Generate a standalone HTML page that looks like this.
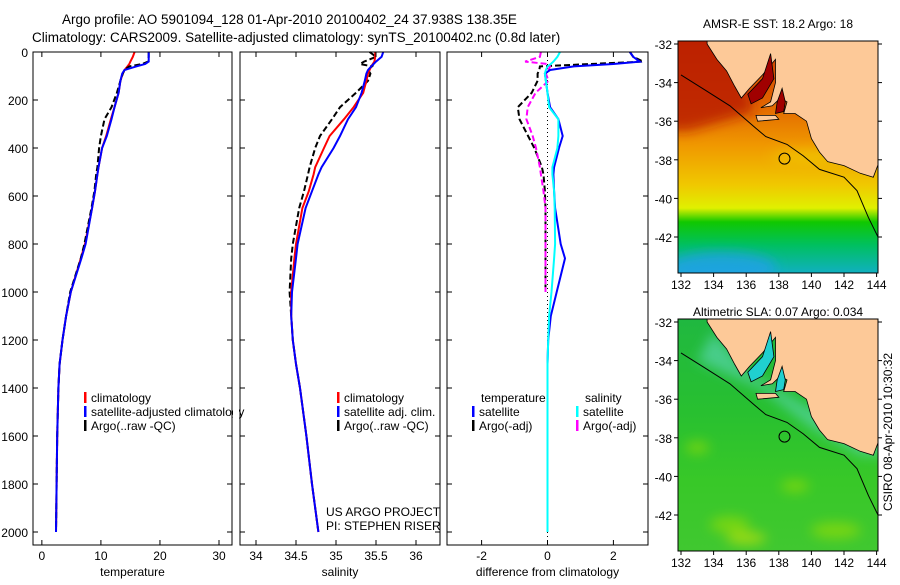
<!DOCTYPE html>
<html><head><meta charset="utf-8"><style>
body{margin:0;background:#fff;width:900px;height:580px;overflow:hidden}
svg{font-family:"Liberation Sans",sans-serif;font-size:12px}
</style></head><body>
<svg id="fig" width="900" height="580" viewBox="0 0 900 580">
<defs><filter id="blur" x="-20%" y="-20%" width="140%" height="140%"><feGaussianBlur stdDeviation="6"/></filter></defs>
<text x="62" y="24" font-size="13.5">Argo profile: AO 5901094_128 01-Apr-2010 20100402_24 37.938S 138.35E</text>
<text x="32" y="42" font-size="13.5">Climatology: CARS2009. Satellite-adjusted climatology: synTS_20100402.nc (0.8d later)</text>
<g id="plots"></g>
<g id="maps"></g>
<text transform="translate(892,432) rotate(-90)" text-anchor="middle" font-size="12">CSIRO 08-Apr-2010 10:30:32</text>
</svg>
<script>
// depth levels (dbar)
const depths = [0,20,40,50,60,75,90,120,170,230,280,350,400,480,510,580,650,800,860,1000,1100,1200,1300,1400,1600,1800,2000];
// temperature
const tempClim = [15.7,15.4,15.0,14.8,14.5,14.0,13.7,13.3,13.0,12.3,11.7,10.9,10.2,9.6,9.4,9.0,8.5,7.3,6.6,4.9,4.1,3.5,3.0,2.8,2.6,2.5,2.4];
const tempSat  = [18.1,18.1,18.1,17.5,16.0,14.0,13.6,13.3,13.0,12.3,11.8,11.0,10.2,9.6,9.4,9.0,8.5,7.4,6.7,4.9,4.1,3.5,3.0,2.8,2.6,2.5,2.4];
const tempArgo = [18.1,18.1,18.0,17.0,14.8,14.0,13.7,13.3,12.7,11.8,10.6,10.0,9.7,9.4,9.2,8.9,8.4,7.2,6.6,4.8,4.1,3.5,3.0,2.8,2.6,2.5,2.4];
// salinity
const salClim = [35.49,35.49,35.48,35.46,35.44,35.42,35.4,35.38,35.34,35.22,35.1,34.92,34.85,34.74,34.72,34.66,34.58,34.5,34.48,34.44,34.44,34.46,34.5,34.55,34.63,34.7,34.78];
const salSat  = [35.59,35.57,35.5,35.47,35.44,35.4,35.38,35.36,35.32,35.25,35.15,35.05,34.97,34.82,34.78,34.7,34.62,34.52,34.5,34.45,34.44,34.46,34.5,34.55,34.63,34.7,34.78];
const salArgo = [35.42,35.5,35.35,35.3,35.45,35.4,35.43,35.4,35.25,35.05,34.95,34.8,34.74,34.67,34.65,34.6,34.54,34.46,34.44,34.42,34.44,34.46,34.5,34.55,34.63,34.7,34.78];
// differences from climatology (null = no data)
const dTempSat  = [2.5,2.6,2.8,2.0,0.8,0.08,-0.08,-0.05,0.0,0.08,0.33,0.46,0.35,0.2,0.18,0.2,0.23,0.4,0.53,0.28,0.1,0.02,0,0,0,0,0];
const dTempArgo = [2.5,2.6,2.9,1.3,-0.23,-0.25,-0.3,-0.3,-0.48,-0.9,-0.85,-0.59,-0.4,-0.17,-0.12,-0.08,-0.06,-0.06,-0.06,-0.06,null,null,null,null,null,null,null];
const dSalSat   = [0.38,0.3,0.18,0.1,0.0,-0.05,-0.08,-0.05,0.0,0.05,0.33,0.33,0.3,0.15,0.15,0.2,0.22,0.23,0.2,0.12,0.05,0.02,0,0,0,0,0];
const dSalArgo  = [-0.2,-0.23,-0.68,0.0,0.08,0.03,-0.05,0.03,-0.36,-0.6,-0.64,-0.45,-0.35,-0.23,-0.2,-0.12,-0.06,-0.06,-0.06,-0.06,null,null,null,null,null,null,null];
const depthTicks = [0,200,400,600,800,1000,1200,1400,1600,1800,2000];
const tempTicks = [0,10,20,30];
const salTicks = [34,34.5,35,35.5,36];
const diffTicks = [-2,0,2];

const NS="http://www.w3.org/2000/svg";
function el(tag,attrs,parent){const e=document.createElementNS(NS,tag);for(const k in attrs)e.setAttribute(k,attrs[k]);(parent||document.getElementById('plots')).appendChild(e);return e;}
const pTop=52,pBot=545;
const yS=d=>52+d*0.24;

const panels=[
 {name:'temperature',x0:33,x1:232,v0:-1.5,v1:32.2,ticks:tempTicks,label:'temperature',series:[[tempClim,'#f00',''],[tempArgo,'#000','6,3'],[tempSat,'#00f','']]},
 {name:'salinity',x0:240,x1:440,v0:33.8,v1:36.3,ticks:salTicks,label:'salinity',series:[[salArgo,'#000','6,3'],[salClim,'#f00',''],[salSat,'#00f','']]},
 {name:'difference',x0:447,x1:648,v0:-3.05,v1:3.05,ticks:diffTicks,label:'difference from climatology',series:[[dTempArgo,'#000','6,3'],[dSalArgo,'#f0f','6,3'],[dTempSat,'#00f',''],[dSalSat,'#0ff','']]}
];
panels.forEach((p,pi)=>{
  const xS=v=>p.x0+(v-p.v0)/(p.v1-p.v0)*(p.x1-p.x0);
  const g=el('g',{});
  
  
  if(pi===2){const z=el('line',{x1:xS(0),x2:xS(0),y1:pTop,y2:pBot,stroke:'#000','stroke-dasharray':'1,3'},g);
    }
  p.series.forEach((s,si)=>{
    const pts=depths.map((d,i)=>s[0][i]==null?null:xS(s[0][i]).toFixed(1)+','+yS(d).toFixed(1)).filter(v=>v).join(' ');
    const pl=el('polyline',{points:pts,fill:'none',stroke:s[1],'stroke-width':2,'stroke-dasharray':s[2]},g);
    
    
  });
  const fr=el('rect',{x:p.x0,y:pTop,width:p.x1-p.x0,height:pBot-pTop,fill:'none',stroke:'#000'},g);
  
  p.ticks.forEach(t=>{const x=xS(t);
    el('line',{x1:x,x2:x,y1:pBot,y2:pBot-5,stroke:'#000'},g);el('line',{x1:x,x2:x,y1:pTop,y2:pTop+5,stroke:'#000'},g);
    const tx=el('text',{x:x,y:560,'text-anchor':'middle'},g);tx.textContent=String(t);
    });
  depthTicks.forEach(d=>{const y=yS(d);
    el('line',{x1:p.x0,x2:p.x0+5,y1:y,y2:y,stroke:'#000'},g);el('line',{x1:p.x1,x2:p.x1-5,y1:y,y2:y,stroke:'#000'},g);
    if(pi===0){const tx=el('text',{x:28,y:y+5,'text-anchor':'end'},g);tx.textContent=String(d);
      }});
  const xl=el('text',{x:(p.x0+p.x1)/2,y:576,'text-anchor':'middle'},g);xl.textContent=p.label;
  
});
function legend(x,y,color,txt){
  const g=el('g',{});
  
  
  if(color)el('rect',{x:x,y:y-10,width:2.5,height:11,fill:color},g);
  const t=el('text',{x:x+7,y:y},g);t.textContent=txt;
}
legend(84,402,'#f00','climatology');legend(84,416,'#00f','satellite-adjusted climatology');legend(84,430,'#000','Argo(..raw -QC)');
el('rect',{x:233,y:390,width:6,height:50,fill:'#fff'});
el('line',{x1:232,x2:232,y1:380,y2:450,stroke:'#000'});
legend(337,402,'#f00','climatology');legend(337,416,'#00f','satellite adj. clim.');legend(337,430,'#000','Argo(..raw -QC)');
legend(474,402,null,'temperature');legend(472,416,'#00f','satellite');legend(472,430,'#000','Argo(-adj)');
legend(578,402,null,'salinity');legend(576,416,'#0ff','satellite');legend(576,430,'#f0f','Argo(-adj)');
const c1=el('text',{x:326,y:516});c1.textContent='US ARGO PROJECT';
const c2=el('text',{x:326,y:530});c2.textContent='PI: STEPHEN RISER';

// maps
const lonTicks=[132,134,136,138,140,142,144];
const latTicks=[-32,-34,-36,-38,-40,-42];
const land=[[133.6,-31.5],[133.6,-32],[134.2,-32.8],[134.8,-33.4],[135.3,-34.2],[135.7,-34.8],[136.2,-34.3],[137.0,-33.6],[137.8,-32.8],[137.8,-34.0],[137.5,-35.0],[136.9,-35.3],[137.6,-35.2],[138.1,-34.8],[138.5,-35.0],[138.3,-35.6],[139.0,-35.6],[139.7,-36.0],[140.0,-36.9],[140.5,-37.6],[141.0,-38.1],[142.0,-38.3],[143.0,-38.7],[143.8,-38.9],[144.2,-38.0],[145,-38.0],[145,-31.5]];
const gulfs=[[[137.5,-32.5],[137.7,-33.8],[137.0,-34.8],[136.3,-35.1],[136.1,-34.6],[137.0,-33.8]],[[138.2,-34.3],[138.4,-35.0],[138.3,-35.5],[137.8,-35.6],[137.9,-35.0]]];
const kangaroo=[[136.6,-35.7],[137.8,-35.7],[138.0,-35.9],[136.7,-36.0]];
const shelf=[[132,-33.6],[133.5,-34.4],[135,-35.2],[136.5,-36.3],[137.2,-36.8],[138.5,-37.2],[139.5,-37.8],[140.5,-38.5],[142,-38.9],[142.8,-39.6],[143.5,-41],[144.2,-42.2]];
function map(yTop,titleY,title,stops,gulfColor,name,extra){
  const x0=678,x1=878,y1=yTop+232;
  const xS=l=>681+(l-132)*16.3, yS2=la=>yTop+3+(-32-la)*19.3;
  const mg=el('g',{},document.getElementById('maps'));
  
  
  const id='gr'+yTop;
  const gr=el('linearGradient',{id:id,x1:0,y1:0,x2:0,y2:1},mg);
  stops.forEach(s=>el('stop',{offset:s[0],'stop-color':s[1]},gr));
  const cp=el('clipPath',{id:'cp'+yTop},mg);
  el('rect',{x:x0,y:yTop,width:x1-x0,height:y1-yTop},cp);
  const ig=el('g',{'clip-path':'url(#cp'+yTop+')'},mg);
  el('rect',{x:x0,y:yTop,width:x1-x0,height:y1-yTop,fill:'url(#'+id+')'},ig);
  const bg=el('g',{filter:'url(#blur)'},ig);
  extra(bg,xS,yS2);
  const pt=a=>a.map(p=>xS(p[0]).toFixed(1)+','+yS2(p[1]).toFixed(1)).join(' ');
  el('polygon',{points:pt(land),fill:'#fdc998',stroke:'#000','stroke-width':0.8},ig);
  gulfs.forEach(g=>el('polygon',{points:pt(g),fill:gulfColor,stroke:'#000','stroke-width':0.8},ig));
  el('polygon',{points:pt(kangaroo),fill:'#fdc998',stroke:'#000','stroke-width':0.8},ig);
  el('polyline',{points:pt(shelf),fill:'none',stroke:'#000','stroke-width':1},ig);
  el('circle',{cx:xS(138.35),cy:yS2(-37.94),r:5.5,fill:'none',stroke:'#000'},ig);
  el('rect',{x:x0,y:yTop,width:x1-x0,height:y1-yTop,fill:'none',stroke:'#000'},mg);
  lonTicks.forEach(l=>{const x=xS(l);el('line',{x1:x,x2:x,y1:y1,y2:y1+4,stroke:'#000'},mg);
    const t=el('text',{x:x,y:y1+16,'text-anchor':'middle'},mg);t.textContent=String(l);});
  latTicks.forEach(la=>{const y=yS2(la);el('line',{x1:x0-4,x2:x0,y1:y,y2:y,stroke:'#000'},mg);el('line',{x1:x1,x2:x1+4,y1:y,y2:y,stroke:'#000'},mg);
    const t=el('text',{x:x0-6,y:y+5,'text-anchor':'end'},mg);t.textContent=String(la);});
  const tt=el('text',{x:(x0+x1)/2,y:titleY,'text-anchor':'middle'},mg);tt.textContent=title;
}
map(41,28,'AMSR-E SST: 18.2 Argo: 18',[[0,'#d04000'],[0.25,'#e06000'],[0.45,'#f09800'],[0.62,'#f0c800'],[0.72,'#e0f000'],[0.78,'#10c800'],[0.88,'#00c060'],[1,'#10b0c0']],'#a00000','sst-map',
 (g,xS,yS)=>{
  el('polygon',{points:[[131,-31],[135,-31],[136.5,-35.5],[132.5,-36.5],[131,-36.5]].map(p=>xS(p[0])+','+yS(p[1])).join(' '),fill:'#b81800',opacity:0.8},g);
  el('ellipse',{cx:xS(134.5),cy:yS(-43.6),rx:55,ry:16,fill:'#20a0e8',opacity:0.8},g);
  el('ellipse',{cx:xS(140),cy:yS(-37.8),rx:40,ry:6,fill:'#f0e000',opacity:0.5},g);
 });
map(319,316,'Altimetric SLA: 0.07 Argo: 0.034',[[0,'#20b840'],[0.4,'#28c030'],[0.7,'#38c828'],[1,'#40c830']],'#20d0d0','sla-map',
 (g,xS,yS)=>{
  [[135,-42.5,20,8],[141.5,-42.8,25,8],[139,-40.5,14,6],[133,-38.5,12,6]].forEach(e=>el('ellipse',{cx:xS(e[0]),cy:yS(e[1]),rx:e[2],ry:e[3],fill:'#9ee000',opacity:0.6},g));
  el('ellipse',{cx:xS(136),cy:yS(-43.2),rx:20,ry:6,fill:'#e0e800',opacity:0.6},g);
  el('polygon',{points:[[133,-34],[137,-35.5],[140,-37.5],[143,-38.9],[144.5,-38.9],[144.5,-38],[140,-36.5],[136,-34.5],[134,-32.5]].map(p=>xS(p[0])+','+yS(p[1])).join(' '),fill:'#60d8c0',opacity:0.6},g);
 });
</script>
</body></html>
